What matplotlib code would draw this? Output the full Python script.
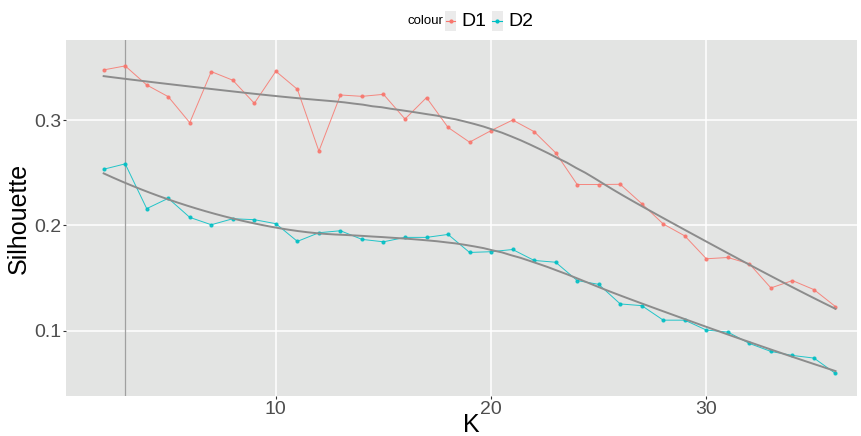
import numpy as np
import matplotlib
matplotlib.use('Agg')
import matplotlib.pyplot as plt
from matplotlib.lines import Line2D
from matplotlib.patches import Rectangle

plt.rcParams['font.family'] = ['Liberation Sans', 'DejaVu Sans']

k = np.arange(2, 37)
d1 = [0.3476, 0.3514, 0.3333, 0.3222, 0.2975, 0.3460, 0.3378, 0.3159, 0.3463,
      0.3292, 0.2705, 0.3238, 0.3225, 0.3244, 0.3010, 0.3213, 0.2930, 0.2790,
      0.2900, 0.3000, 0.2890, 0.2689, 0.2388, 0.2388, 0.2390, 0.2206, 0.2013,
      0.1900, 0.1683, 0.1695, 0.1635, 0.1406, 0.1476, 0.1390, 0.1229]
d2 = [0.2533, 0.2584, 0.2159, 0.2257, 0.2076, 0.2006, 0.2063, 0.2054, 0.2016,
      0.1848, 0.1930, 0.1949, 0.1867, 0.1844, 0.1886, 0.1886, 0.1914, 0.1743,
      0.1750, 0.1771, 0.1667, 0.1650, 0.1476, 0.1440, 0.1254, 0.1238, 0.1100,
      0.1100, 0.1006, 0.0987, 0.0879, 0.0803, 0.0765, 0.0740, 0.0594]
series = {'D1': d1, 'D2': d2}
colours = {'D1': '#F8766D', 'D2': '#00BFC4'}
vline_k = 3


def loess(x, y, xs, span=0.7):
    # local quadratic fit with tricube weights
    x = np.asarray(x, float)
    y = np.asarray(y, float)
    q = int(np.floor(len(x) * span))
    out = []
    for x0 in xs:
        d = np.abs(x - x0)
        h = np.sort(d)[q - 1]
        w = np.clip(1 - (d / h) ** 3, 0, None) ** 3
        X = np.column_stack([np.ones_like(x), x - x0, (x - x0) ** 2])
        sw = np.sqrt(w)
        beta = np.linalg.lstsq(X * sw[:, None], y * sw, rcond=None)[0]
        out.append(beta[0])
    return np.array(out)


W, H = 861, 436
fig = plt.figure(figsize=(W / 100, H / 100), dpi=100)
ax = fig.add_axes([66 / W, 1 - 396 / H, (857 - 66) / W, (396 - 40) / H])
ax.set_facecolor('#E3E4E3')

ax.axvline(vline_k, color='#A0A0A0', lw=0.9, zorder=1)

xs = np.linspace(k.min(), k.max(), 80)
for name, vals in series.items():
    ax.plot(k, vals, color=colours[name], lw=0.7, alpha=0.85, marker='o',
            ms=2.0, mec=colours[name], mfc=colours[name], zorder=3)
    ax.plot(xs, loess(k, vals, xs), color='#8C8C8C', lw=1.4, zorder=4)

ax.set_xlim(0.25, 37.0)
ax.set_ylim(0.038, 0.376)
ax.set_xticks([10, 20, 30])
ax.set_yticks([0.1, 0.2, 0.3])
ax.set_yticklabels(['0.1', '0.2', '0.3'])
ax.grid(True, color='white', lw=1.1)
ax.set_axisbelow(True)
for s in ax.spines.values():
    s.set_visible(False)
ax.tick_params(length=2.5, width=0.8, color='#333333', labelcolor='#4D4D4D',
               labelsize=14, pad=1)
ax.set_xlabel('K', fontsize=18, va='center')
ax.set_ylabel('Silhouette', fontsize=18, labelpad=2)
ax.xaxis.set_label_coords((471 - 66) / (857 - 66), -(425 - 396) / (396 - 40))

# legend drawn at top
def px(x, y):
    return x / W, 1 - y / H

fig.text(*px(408, 21), 'colour', fontsize=9.5, va='center', ha='left')
for name, x0, tx in [('D1', 445, 461), ('D2', 491.5, 508)]:
    bx, by = px(x0, 31)
    fig.add_artist(Rectangle((bx, by), 11 / W, 20 / H, transform=fig.transFigure,
                             facecolor='#EBEBEB', edgecolor='none'))
    lx0, ly = px(x0 + 1, 21)
    lx1, _ = px(x0 + 10, 21)
    fig.add_artist(Line2D([lx0, lx1], [ly, ly], color=colours[name], lw=0.8,
                          transform=fig.transFigure))
    fig.add_artist(Line2D([(lx0 + lx1) / 2], [ly], color=colours[name], marker='o',
                          ms=2.0, transform=fig.transFigure))
    fig.text(*px(tx, 21.5), name, fontsize=14, va='center', ha='left')

fig.savefig('out.png', dpi=100)
